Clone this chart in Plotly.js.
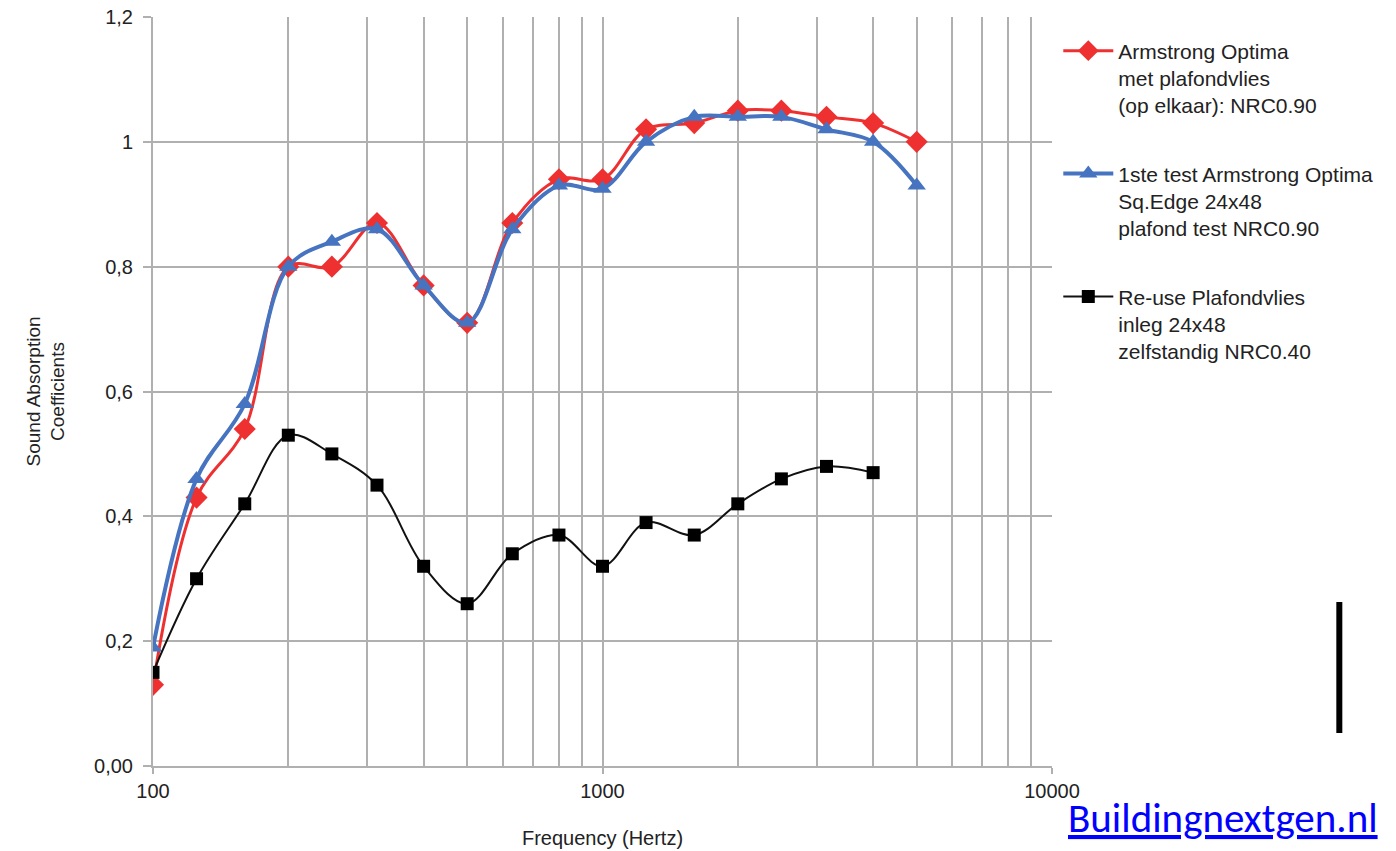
<!DOCTYPE html>
<html>
<head>
<meta charset="utf-8">
<script src="https://cdn.plot.ly/plotly-3.0.1.min.js"></script>
<style>html,body{margin:0;padding:0;background:#fff;}#chart{width:1396px;height:851px;}</style>
</head>
<body>
<div id="chart"></div>
<script>
const frequencies = [100,125,160,200,250,315,400,500,630,800,1000,1250,1600,2000,2500,3150,4000,5000];
const freqBlack = [100,125,160,200,250,315,400,500,630,800,1000,1250,1600,2000,2500,3150,4000];
const armstrongMetVlies = [0.13,0.43,0.54,0.80,0.80,0.87,0.77,0.71,0.87,0.94,0.94,1.02,1.03,1.05,1.05,1.04,1.03,1.00];
const armstrongTest = [0.19,0.46,0.58,0.80,0.84,0.86,0.77,0.71,0.86,0.93,0.925,1.00,1.04,1.04,1.04,1.02,1.00,0.93];
const reusePlafondvlies = [0.15,0.30,0.42,0.53,0.50,0.45,0.32,0.26,0.34,0.37,0.32,0.39,0.37,0.42,0.46,0.48,0.47];
const seriesNames = [
  "Armstrong Optima<br>met plafondvlies<br>(op elkaar): NRC0.90",
  "1ste test Armstrong Optima<br>Sq.Edge 24x48<br>plafond test NRC0.90",
  "Re-use Plafondvlies<br>inleg 24x48<br>zelfstandig NRC0.40"
];
const yTickVals = [0,0.2,0.4,0.6,0.8,1,1.2];
const yTickText = ["0,00","0,2","0,4","0,6","0,8","1","1,2"];
const xTickVals = [100,1000,10000];
const xTickText = ["100","1000","10000"];
const xMinorVals = [200,300,400,500,600,700,800,900,2000,3000,4000,5000,6000,7000,8000,9000];

const narrow = "Liberation Sans Narrow, Arial Narrow, sans-serif";
const gridCol = "#b0b0b0";
const traces = [
  {x: frequencies, y: armstrongMetVlies, name: seriesNames[0], legendgroup:"a", type:"scatter", mode:"lines+markers",
   line:{color:"#ee3030", width:3, shape:"spline", smoothing:1}, marker:{symbol:"diamond", size:17, color:"#ee3030"}},
  {x: frequencies, y: armstrongTest, name: seriesNames[1], legendgroup:"b", type:"scatter", mode:"lines+markers",
   line:{color:"#4674c0", width:4, shape:"spline", smoothing:1}, marker:{symbol:"triangle-up", size:16, color:"#4674c0"}},
  {x: freqBlack, y: reusePlafondvlies, name: seriesNames[2], legendgroup:"c", type:"scatter", mode:"lines+markers",
   line:{color:"#111111", width:2, shape:"spline", smoothing:1}, marker:{symbol:"square", size:13, color:"#000000"}}
];
const layout = {
  width:1396, height:851,
  margin:{l:153, r:344, t:17, b:85},
  paper_bgcolor:"#ffffff", plot_bgcolor:"#ffffff",
  showlegend:true,
  legend:{x:1.007, xanchor:"left", y:0.982, yanchor:"top", valign:"top", tracegroupgap:38, itemwidth:50,
    font:{family:narrow, size:21, color:"#222"}, bgcolor:"rgba(0,0,0,0)"},
  xaxis:{type:"log", range:[2,4], tickmode:"array", tickvals:xTickVals, ticktext:xTickText,
    showgrid:true, gridcolor:gridCol, gridwidth:2,
    minor:{tickvals:xMinorVals, showgrid:true, gridcolor:gridCol, gridwidth:2, ticks:""},
    showline:true, linecolor:gridCol, linewidth:2, ticks:"outside", ticklen:6, tickcolor:gridCol, tickwidth:2,
    ticklabelstandoff:0, zeroline:false,
    tickfont:{family:narrow, size:20, color:"#222"},
    title:{text:"Frequency (Hertz)", font:{family:narrow, size:20, color:"#222"}, standoff:30}},
  yaxis:{range:[0,1.2], tickmode:"array", tickvals:yTickVals, ticktext:yTickText,
    showgrid:true, gridcolor:gridCol, gridwidth:2,
    showline:true, linecolor:gridCol, linewidth:2, ticks:"outside", ticklen:8, tickcolor:gridCol, tickwidth:2,
    ticklabelstandoff:6, zeroline:false, tickfont:{family:"Liberation Sans, Arial, sans-serif", size:20, color:"#222"},
    title:{text:"Sound Absorption<br>Coefficients", font:{family:narrow, size:19, color:"#222"}, standoff:24}},
  shapes:[
    {type:"line", xref:"paper", yref:"paper", x0:1.3196, x1:1.3196, y0:0.044, y1:0.219, line:{color:"#000", width:6}}
  ],
  annotations:[
    {xref:"paper", yref:"paper", x:1.0156, xanchor:"left", y:-0.1055, yanchor:"bottom", showarrow:false,
     text:"<span style=\"text-decoration:underline\">Buildingnextgen.nl</span>",
     font:{family:"Carlito, Lato, sans-serif", size:41, color:"#0000ff"}}
  ]
};
Plotly.newPlot("chart", traces, layout, {displayModeBar:false, staticPlot:true});
</script>
</body>
</html>
